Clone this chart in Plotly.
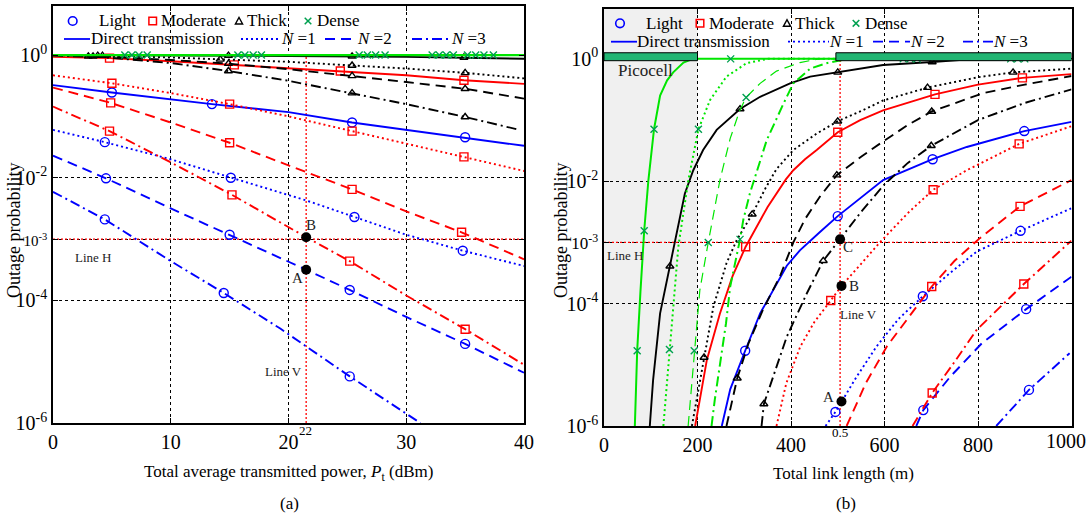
import plotly.graph_objects as go

W, H = 1087, 515
SERIF = "Liberation Serif, Times New Roman, Times, serif"
BLUE, RED, BLACK = "#0000ff", "#ff0000", "#000000"
GREEN_LINE, GREEN_MARK = "#00e600", "#00a050"
PICO_FILL = "#22b573"

# ======================= Panel (a): x = transmitted power (dBm); *_LP = log10(outage) =======================
A_XTICKS = [0, 10, 20, 30, 40]
A_YTICKS = [1, 1e-2, 1e-3, 1e-4, 1e-6]
A_LINE_H = 1e-3
A_LINE_V = 21.5

# Light (blue)
A_LIGHT_DIR_X = [0, 5, 13.5, 20, 25.4, 30, 35, 40]
A_LIGHT_DIR_LP = [-0.49, -0.61, -0.80, -0.93, -1.10, -1.22, -1.34, -1.48]
A_LIGHT_DIR_MX = [5, 13.5, 25.4, 35]
A_LIGHT_DIR_MLP = [-0.61, -0.80, -1.10, -1.34]
A_LIGHT_N1_X = [0, 4.4, 10, 15.1, 21.5, 25.6, 30, 34.8, 40]
A_LIGHT_N1_LP = [-1.22, -1.42, -1.70, -2.0, -2.37, -2.64, -2.93, -3.19, -3.44]
A_LIGHT_N1_MX = [4.4, 15.1, 25.6, 34.8]
A_LIGHT_N1_MLP = [-1.42, -2.0, -2.64, -3.19]
A_LIGHT_N2_X = [0, 4.5, 10, 15, 21.5, 25.2, 30, 35, 40]
A_LIGHT_N2_LP = [-1.64, -2.01, -2.5, -2.93, -3.5, -3.83, -4.27, -4.71, -5.18]
A_LIGHT_N2_MX = [4.5, 15, 25.2, 35]
A_LIGHT_N2_MLP = [-2.01, -2.93, -3.83, -4.71]
A_LIGHT_N3_X = [0, 4.4, 10, 14.5, 19.3, 25.2, 31.2]
A_LIGHT_N3_LP = [-2.23, -2.68, -3.36, -3.88, -4.46, -5.24, -6.0]
A_LIGHT_N3_MX = [4.4, 14.5, 25.2]
A_LIGHT_N3_MLP = [-2.68, -3.88, -5.24]

# Moderate (red)
A_MOD_DIR_X = [0, 4.8, 10, 15.4, 20, 24.4, 30, 34.9, 40]
A_MOD_DIR_LP = [-0.03, -0.05, -0.10, -0.16, -0.21, -0.26, -0.33, -0.41, -0.47]
A_MOD_DIR_MX = [4.8, 15.4, 24.4, 34.9]
A_MOD_DIR_MLP = [-0.05, -0.16, -0.26, -0.41]
A_MOD_N1_X = [0, 5, 10, 15, 20, 25.4, 30, 34.9, 40]
A_MOD_N1_LP = [-0.33, -0.46, -0.62, -0.80, -1.0, -1.24, -1.45, -1.66, -1.89]
A_MOD_N1_MX = [5, 15, 25.4, 34.9]
A_MOD_N1_MLP = [-0.46, -0.80, -1.24, -1.66]
A_MOD_N2_X = [0, 4.9, 10, 15, 20, 25.4, 30, 34.7, 40]
A_MOD_N2_LP = [-0.53, -0.78, -1.1, -1.43, -1.8, -2.19, -2.55, -2.89, -3.33]
A_MOD_N2_MX = [4.9, 15, 25.4, 34.7]
A_MOD_N2_MLP = [-0.78, -1.43, -2.19, -2.89]
A_MOD_N3_X = [0, 4.8, 10, 15.2, 21.5, 25.2, 30, 35, 40]
A_MOD_N3_LP = [-0.84, -1.24, -1.75, -2.28, -2.97, -3.36, -3.92, -4.47, -5.05]
A_MOD_N3_MX = [4.8, 15.2, 25.2, 35]
A_MOD_N3_MLP = [-1.24, -2.28, -3.36, -4.47]

# Thick (black)
A_THICK_DIR_X = [0, 10, 20, 30, 40]
A_THICK_DIR_LP = [0, -0.005, -0.015, -0.03, -0.06]
A_THICK_DIR_MX = [4.2, 14.9, 25.4, 34.9]
A_THICK_DIR_MLP = [-0.01, -0.01, -0.02, -0.04]
A_THICK_N1_X = [0, 4, 10, 14.2, 20, 25.4, 30, 35, 40]
A_THICK_N1_LP = [0, -0.01, -0.04, -0.07, -0.11, -0.17, -0.22, -0.29, -0.38]
A_THICK_N1_MX = [3.8, 14.2, 25.4, 35]
A_THICK_N1_MLP = [-0.01, -0.07, -0.17, -0.29]
A_THICK_N2_X = [0, 4, 10, 14.9, 20, 25.4, 30, 35, 40]
A_THICK_N2_LP = [0, -0.02, -0.08, -0.14, -0.23, -0.34, -0.44, -0.55, -0.71]
A_THICK_N2_MX = [3.4, 14.9, 25.4, 35]
A_THICK_N2_MLP = [-0.02, -0.14, -0.34, -0.55]
A_THICK_N3_X = [0, 4, 10, 14.9, 20, 25.4, 30, 35, 39.4]
A_THICK_N3_LP = [-0.01, -0.03, -0.13, -0.26, -0.42, -0.62, -0.8, -1.01, -1.21]
A_THICK_N3_MX = [3.0, 14.9, 25.4, 35]
A_THICK_N3_MLP = [-0.02, -0.26, -0.62, -1.01]

# Dense (green) - all saturated at 1
A_DENSE_X = [0, 40]
A_DENSE_LP = [0, 0]
A_DENSE_DIR_MX = [6.1, 15.7, 26.0, 32.2, 35.2]
A_DENSE_N1_MX = [6.7, 16.3, 26.7, 32.8, 35.9]
A_DENSE_N2_MX = [7.3, 17.0, 27.4, 33.4, 36.6]
A_DENSE_N3_MX = [8.0, 17.7, 28.2, 34.0, 37.4]

A_POINTS_X = [21.5, 21.5]
A_POINTS_LP = [-3.5, -2.97]

# ======================= Panel (b): x = total link length (m) =======================
B_XTICKS = [0, 200, 400, 600, 800, 1000]
B_YTICKS = [1, 1e-2, 1e-3, 1e-4, 1e-6]
B_LINE_H = 1e-3
B_LINE_V = 505
B_PICOCELL = [0, 200]
B_BAR2 = [496, 1000]

B_DENSE_DIR_X = [66, 71, 78, 86, 95, 107, 120, 135, 148, 170, 190, 1000]
B_DENSE_DIR_LP = [-6, -4.77, -3.8, -2.81, -1.98, -1.15, -0.6, -0.35, -0.22, -0.06, 0, 0]
B_DENSE_DIR_MX = [71, 86, 107, 271]
B_DENSE_DIR_MLP = [-4.77, -2.81, -1.15, 0]
B_DENSE_N1_X = [127, 140, 159, 180, 202, 227, 262, 305, 350, 1000]
B_DENSE_N1_LP = [-6, -4.75, -3.07, -2.0, -1.15, -0.67, -0.29, -0.07, 0, 0]
B_DENSE_N1_MX = [140, 202, 640, 870]
B_DENSE_N1_MLP = [-4.75, -1.15, 0, 0]
B_DENSE_N2_X = [180, 193, 205, 223, 248, 270, 290, 304, 334, 369, 419, 460, 1000]
B_DENSE_N2_LP = [-6, -4.77, -3.78, -3.0, -1.98, -1.3, -0.85, -0.63, -0.4, -0.2, -0.06, 0, 0]
B_DENSE_N2_MX = [193, 223, 304, 655, 885]
B_DENSE_N2_MLP = [-4.77, -3.0, -0.63, 0, 0]
B_DENSE_N3_X = [230, 237, 261, 270, 291, 298, 312, 348, 384, 405, 441, 476, 520, 1000]
B_DENSE_N3_LP = [-6, -5.57, -4.32, -3.72, -2.95, -2.63, -2.2, -1.33, -0.73, -0.4, -0.16, -0.07, 0, 0]
B_DENSE_N3_MX = [291, 670, 900]
B_DENSE_N3_MLP = [-2.95, 0, 0]

B_THICK_DIR_X = [98, 105, 120, 141, 152, 173, 191, 212, 241, 291, 334, 398, 441, 500, 548, 597, 702, 760, 1000]
B_THICK_DIR_LP = [-6, -5.25, -4.16, -3.39, -2.96, -2.2, -1.82, -1.49, -1.16, -0.82, -0.62, -0.4, -0.29, -0.22, -0.16, -0.1, -0.05, -0.02, 0]
B_THICK_DIR_MX = [141, 291, 500, 702]
B_THICK_DIR_MLP = [-3.39, -0.82, -0.22, -0.05]
B_THICK_N1_X = [188, 214, 234, 262, 284, 317, 345, 369, 405, 455, 500, 548, 597, 692, 800, 875, 1000]
B_THICK_N1_LP = [-6, -4.88, -4.05, -3.34, -2.96, -2.54, -2.12, -1.8, -1.49, -1.22, -1.02, -0.86, -0.68, -0.47, -0.3, -0.22, -0.16]
B_THICK_N1_MX = [214, 317, 500, 692, 875]
B_THICK_N1_MLP = [-4.88, -2.54, -1.02, -0.47, -0.22]
B_THICK_N2_X = [262, 285, 309, 340, 376, 405, 430, 462, 498, 550, 597, 650, 701, 811, 900, 1000]
B_THICK_N2_LP = [-6, -5.22, -4.65, -4.1, -3.56, -3.0, -2.62, -2.25, -1.9, -1.6, -1.35, -1.08, -0.86, -0.56, -0.42, -0.28]
B_THICK_N2_MX = [285, 498, 701]
B_THICK_N2_MLP = [-5.22, -1.9, -0.86]
B_THICK_N3_X = [337, 342, 391, 434, 469, 505, 550, 600, 650, 700, 800, 900, 1000]
B_THICK_N3_LP = [-6, -5.64, -4.54, -3.83, -3.3, -2.95, -2.5, -2.05, -1.7, -1.42, -1.0, -0.72, -0.5]
B_THICK_N3_MX = [342, 469, 700]
B_THICK_N3_MLP = [-5.64, -3.3, -1.42]

B_MOD_DIR_X = [195, 220, 248, 275, 303, 350, 389, 405, 430, 455, 500, 548, 597, 708, 800, 895, 1000]
B_MOD_DIR_LP = [-6, -4.92, -4.16, -3.55, -3.07, -2.42, -1.97, -1.82, -1.64, -1.49, -1.2, -1.0, -0.84, -0.58, -0.42, -0.31, -0.25]
B_MOD_DIR_MX = [303, 500, 708, 895]
B_MOD_DIR_MLP = [-3.07, -1.2, -0.58, -0.31]
B_MOD_N1_X = [369, 390, 420, 450, 485, 508, 550, 590, 650, 704, 776, 888, 1000]
B_MOD_N1_LP = [-6, -5.3, -4.7, -4.3, -3.95, -3.71, -3.35, -3.0, -2.52, -2.14, -1.82, -1.39, -1.1]
B_MOD_N1_MX = [485, 704, 888]
B_MOD_N1_MLP = [-3.95, -2.14, -1.39]
B_MOD_N2_X = [519, 560, 605, 631, 701, 750, 804, 890, 1000]
B_MOD_N2_LP = [-6, -5.3, -4.7, -4.43, -3.72, -3.3, -2.93, -2.41, -1.98]
B_MOD_N2_MX = [701, 890]
B_MOD_N2_MLP = [-3.72, -2.41]
B_MOD_N3_X = [660, 702, 750, 797, 898, 1000]
B_MOD_N3_LP = [-6, -5.46, -4.95, -4.43, -3.68, -2.97]
B_MOD_N3_MX = [702, 898]
B_MOD_N3_MLP = [-5.46, -3.68]

B_LIGHT_DIR_X = [252, 270, 302, 334, 391, 419, 462, 500, 597, 703, 776, 899, 1000]
B_LIGHT_DIR_LP = [-6, -5.4, -4.77, -4.16, -3.38, -3.13, -2.83, -2.57, -1.98, -1.64, -1.44, -1.18, -1.03]
B_LIGHT_DIR_MX = [302, 500, 703, 899]
B_LIGHT_DIR_MLP = [-4.77, -2.57, -1.64, -1.18]
B_LIGHT_N1_X = [474, 495, 540, 583, 630, 682, 740, 797, 891, 1000]
B_LIGHT_N1_LP = [-6, -5.77, -5.2, -4.7, -4.25, -3.88, -3.5, -3.15, -2.81, -2.44]
B_LIGHT_N1_MX = [495, 682, 891]
B_LIGHT_N1_MLP = [-5.77, -3.88, -2.81]
B_LIGHT_N2_X = [668, 683, 740, 808, 903, 1000]
B_LIGHT_N2_LP = [-6, -5.74, -5.2, -4.65, -4.09, -3.56]
B_LIGHT_N2_MX = [683, 903]
B_LIGHT_N2_MLP = [-5.74, -4.09]
B_LIGHT_N3_X = [839, 909, 996]
B_LIGHT_N3_LP = [-6, -5.41, -4.81]
B_LIGHT_N3_MX = [909]
B_LIGHT_N3_MLP = [-5.41]

B_POINTS_X = [508, 508, 505]
B_POINTS_LP = [-5.6, -3.71, -2.95]

# ======================= figure =======================
DASH = {"solid": "solid", "n1": "2px,3px", "n2": "10px,6px", "n3": "10px,4px,2px,4px"}
SYMBOL = {"blue": ("circle-open", 9, BLUE), "red": ("square-open", 8, RED),
          "black": ("triangle-up-open", 7, BLACK), "green": ("x-thin", 7, GREEN_MARK)}

fig = go.Figure()


def pw(v):
    return [10 ** e for e in v]


def curve(x, lp, color, style, xa, ya, width=1.9):
    fig.add_trace(go.Scatter(x=x, y=pw(lp), mode="lines", xaxis=xa, yaxis=ya,
                             line=dict(color=color, dash=DASH[style], width=width),
                             showlegend=False, hoverinfo="skip"))


def marks(x, lp, kind, xa, ya):
    sym, size, col = SYMBOL[kind]
    fig.add_trace(go.Scatter(x=x, y=pw(lp), mode="markers", xaxis=xa, yaxis=ya,
                             marker=dict(symbol=sym, size=size, color=col,
                                         line=dict(color=col, width=1.4)),
                             showlegend=False, hoverinfo="skip"))


def ref_lines(xa, ya, xr, yr, xv, yh):
    for (xs, ys) in [([xr[0], xr[-1]], [yh, yh]), ([xv, xv], [yr[-1], yr[0]])]:
        fig.add_trace(go.Scatter(x=xs, y=ys, mode="lines", xaxis=xa, yaxis=ya,
                                 line=dict(color=RED, dash="2px,2px", width=1.3),
                                 showlegend=False, hoverinfo="skip"))


# ---- panel (a)
ref_lines("x", "y", A_XTICKS, A_YTICKS, A_LINE_V, A_LINE_H)
for (x, lp, mx, mlp, style) in [
    (A_LIGHT_DIR_X, A_LIGHT_DIR_LP, A_LIGHT_DIR_MX, A_LIGHT_DIR_MLP, "solid"),
    (A_LIGHT_N1_X, A_LIGHT_N1_LP, A_LIGHT_N1_MX, A_LIGHT_N1_MLP, "n1"),
    (A_LIGHT_N2_X, A_LIGHT_N2_LP, A_LIGHT_N2_MX, A_LIGHT_N2_MLP, "n2"),
    (A_LIGHT_N3_X, A_LIGHT_N3_LP, A_LIGHT_N3_MX, A_LIGHT_N3_MLP, "n3")]:
    curve(x, lp, BLUE, style, "x", "y")
    marks(mx, mlp, "blue", "x", "y")
for (x, lp, mx, mlp, style) in [
    (A_MOD_DIR_X, A_MOD_DIR_LP, A_MOD_DIR_MX, A_MOD_DIR_MLP, "solid"),
    (A_MOD_N1_X, A_MOD_N1_LP, A_MOD_N1_MX, A_MOD_N1_MLP, "n1"),
    (A_MOD_N2_X, A_MOD_N2_LP, A_MOD_N2_MX, A_MOD_N2_MLP, "n2"),
    (A_MOD_N3_X, A_MOD_N3_LP, A_MOD_N3_MX, A_MOD_N3_MLP, "n3")]:
    curve(x, lp, RED, style, "x", "y")
    marks(mx, mlp, "red", "x", "y")
for (x, lp, mx, mlp, style) in [
    (A_THICK_DIR_X, A_THICK_DIR_LP, A_THICK_DIR_MX, A_THICK_DIR_MLP, "solid"),
    (A_THICK_N1_X, A_THICK_N1_LP, A_THICK_N1_MX, A_THICK_N1_MLP, "n1"),
    (A_THICK_N2_X, A_THICK_N2_LP, A_THICK_N2_MX, A_THICK_N2_MLP, "n2"),
    (A_THICK_N3_X, A_THICK_N3_LP, A_THICK_N3_MX, A_THICK_N3_MLP, "n3")]:
    curve(x, lp, BLACK, style, "x", "y")
    marks(mx, mlp, "black", "x", "y")
curve(A_DENSE_X, A_DENSE_LP, GREEN_LINE, "solid", "x", "y", width=2.2)
for mx in [A_DENSE_DIR_MX, A_DENSE_N1_MX, A_DENSE_N2_MX, A_DENSE_N3_MX]:
    marks(mx, [0] * len(mx), "green", "x", "y")
fig.add_trace(go.Scatter(x=A_POINTS_X, y=pw(A_POINTS_LP), mode="markers", xaxis="x", yaxis="y",
                         marker=dict(color=BLACK, size=10), showlegend=False, hoverinfo="skip"))

# ---- panel (b)
ref_lines("x2", "y2", B_XTICKS, B_YTICKS, B_LINE_V, B_LINE_H)
for (x, lp, mx, mlp, style) in [
    (B_LIGHT_DIR_X, B_LIGHT_DIR_LP, B_LIGHT_DIR_MX, B_LIGHT_DIR_MLP, "solid"),
    (B_LIGHT_N1_X, B_LIGHT_N1_LP, B_LIGHT_N1_MX, B_LIGHT_N1_MLP, "n1"),
    (B_LIGHT_N2_X, B_LIGHT_N2_LP, B_LIGHT_N2_MX, B_LIGHT_N2_MLP, "n2"),
    (B_LIGHT_N3_X, B_LIGHT_N3_LP, B_LIGHT_N3_MX, B_LIGHT_N3_MLP, "n3")]:
    curve(x, lp, BLUE, style, "x2", "y2")
    marks(mx, mlp, "blue", "x2", "y2")
for (x, lp, mx, mlp, style) in [
    (B_MOD_DIR_X, B_MOD_DIR_LP, B_MOD_DIR_MX, B_MOD_DIR_MLP, "solid"),
    (B_MOD_N1_X, B_MOD_N1_LP, B_MOD_N1_MX, B_MOD_N1_MLP, "n1"),
    (B_MOD_N2_X, B_MOD_N2_LP, B_MOD_N2_MX, B_MOD_N2_MLP, "n2"),
    (B_MOD_N3_X, B_MOD_N3_LP, B_MOD_N3_MX, B_MOD_N3_MLP, "n3")]:
    curve(x, lp, RED, style, "x2", "y2")
    marks(mx, mlp, "red", "x2", "y2")
for (x, lp, mx, mlp, style) in [
    (B_THICK_DIR_X, B_THICK_DIR_LP, B_THICK_DIR_MX, B_THICK_DIR_MLP, "solid"),
    (B_THICK_N1_X, B_THICK_N1_LP, B_THICK_N1_MX, B_THICK_N1_MLP, "n1"),
    (B_THICK_N2_X, B_THICK_N2_LP, B_THICK_N2_MX, B_THICK_N2_MLP, "n2"),
    (B_THICK_N3_X, B_THICK_N3_LP, B_THICK_N3_MX, B_THICK_N3_MLP, "n3")]:
    curve(x, lp, BLACK, style, "x2", "y2")
    marks(mx, mlp, "black", "x2", "y2")
for (x, lp, mx, mlp, style, w) in [
    (B_DENSE_DIR_X, B_DENSE_DIR_LP, B_DENSE_DIR_MX, B_DENSE_DIR_MLP, "solid", 2.0),
    (B_DENSE_N1_X, B_DENSE_N1_LP, B_DENSE_N1_MX, B_DENSE_N1_MLP, "n1", 2.0),
    (B_DENSE_N2_X, B_DENSE_N2_LP, B_DENSE_N2_MX, B_DENSE_N2_MLP, "n2", 1.2),
    (B_DENSE_N3_X, B_DENSE_N3_LP, B_DENSE_N3_MX, B_DENSE_N3_MLP, "n3", 2.0)]:
    curve(x, lp, GREEN_LINE, style, "x2", "y2", width=w)
    marks(mx, mlp, "green", "x2", "y2")
fig.add_trace(go.Scatter(x=B_POINTS_X, y=pw(B_POINTS_LP), mode="markers", xaxis="x2", yaxis="y2",
                         marker=dict(color=BLACK, size=10), showlegend=False, hoverinfo="skip"))


# ---------------- layout ----------------
def P(px, py):
    return px / W, 1 - py / H


A_DOM_X = [53 / W, 524 / W]
A_DOM_Y = [1 - 423 / H, 1 - 6 / H]
B_DOM_X = [604 / W, 1071.5 / W]
B_DOM_Y = [1 - 426 / H, 1 - 9 / H]
A_YTOP, B_YTOP = 0.80, 0.815

tick_txt_a = ["10<sup>0</sup>", "10<sup>-2</sup>", "<span style='font-size:15px'>10<sup>-3</sup></span>",
              "10<sup>-4</sup>", "10<sup>-6</sup>"]
tick_txt_b = ["10<sup>0</sup>", "10<sup>-2</sup>", "<span style='font-size:17px'>10<sup>-3</sup></span>",
              "10<sup>-4</sup>", "10<sup>-6</sup>"]
# the last x label of panel (b) sits at the figure edge; it is drawn as an annotation, shifted inward
b_xticktext = [str(v) for v in B_XTICKS[:-1]] + [""]

axis_common = dict(showline=True, linecolor=BLACK, linewidth=1.6, mirror="allticks", ticks="inside",
                   ticklen=5, tickcolor=BLACK, showgrid=True, gridcolor=BLACK, griddash="dot", gridwidth=1,
                   zeroline=False, automargin=False, ticklabeloverflow="allow",
                   tickfont=dict(family=SERIF, size=20, color=BLACK))

fig.update_layout(
    width=W, height=H, margin=dict(l=0, r=0, t=0, b=0, autoexpand=False),
    paper_bgcolor="white", plot_bgcolor="white", showlegend=False,
    font=dict(family=SERIF, color=BLACK),
    xaxis=dict(domain=A_DOM_X, range=[0, 40], tickvals=A_XTICKS, ticktext=[str(v) for v in A_XTICKS],
               anchor="y", **axis_common),
    yaxis=dict(domain=A_DOM_Y, type="log", range=[-6, A_YTOP], tickvals=A_YTICKS, ticktext=tick_txt_a,
               anchor="x", **axis_common),
    xaxis2=dict(domain=B_DOM_X, range=[0, 1000], tickvals=B_XTICKS, ticktext=b_xticktext,
                anchor="y2", **axis_common),
    yaxis2=dict(domain=B_DOM_Y, type="log", range=[-6, B_YTOP], tickvals=B_YTICKS, ticktext=tick_txt_b,
                anchor="x2", **axis_common),
)

shapes = []
# picocell shading & bars (b)  (shape y values on a log axis are given as data values)
shapes.append(dict(type="rect", xref="x2", yref="y2", x0=B_PICOCELL[0], x1=B_PICOCELL[1],
                   y0=B_YTICKS[-1], y1=10 ** B_YTOP, fillcolor="#f0f0f0", line=dict(width=0), layer="below"))
for (x0, x1) in [B_PICOCELL, B_BAR2]:
    shapes.append(dict(type="rect", xref="x2", yref="y2", x0=x0, x1=x1, y0=10 ** -0.03, y1=10 ** 0.10,
                       fillcolor=PICO_FILL, line=dict(color=BLACK, width=1), layer="above"))

annotations = []


def txt(px, py, s, size=17, xanchor="center", angle=0):
    x, y = P(px, py)
    annotations.append(dict(x=x, y=y, xref="paper", yref="paper", text=s, showarrow=False,
                            xanchor=xanchor, yanchor="middle", textangle=angle,
                            font=dict(family=SERIF, size=size, color=BLACK)))


def legend(rows_y1, rows_y2, items1, items2):
    for (kind, cx, label, tx) in items1:
        cy = rows_y1
        if kind == "blue":
            x0, y0 = P(cx - 4.3, cy - 4.3)
            x1, y1 = P(cx + 4.3, cy + 4.3)
            shapes.append(dict(type="circle", xref="paper", yref="paper", x0=x0, x1=x1, y0=y0, y1=y1,
                               line=dict(color=BLUE, width=1.6)))
        elif kind == "red":
            x0, y0 = P(cx - 3.8, cy - 3.8)
            x1, y1 = P(cx + 3.8, cy + 3.8)
            shapes.append(dict(type="rect", xref="paper", yref="paper", x0=x0, x1=x1, y0=y0, y1=y1,
                               line=dict(color=RED, width=1.5)))
        elif kind == "black":
            a = P(cx - 3.6, cy + 3)
            b = P(cx + 3.6, cy + 3)
            c = P(cx, cy - 3.6)
            shapes.append(dict(type="path", xref="paper", yref="paper",
                               path=f"M{a[0]},{a[1]} L{b[0]},{b[1]} L{c[0]},{c[1]} Z",
                               line=dict(color=BLACK, width=1.4)))
        else:
            for (dx0, dy0, dx1, dy1) in [(-3.3, -3.3, 3.3, 3.3), (-3.3, 3.3, 3.3, -3.3)]:
                x0, y0 = P(cx + dx0, cy + dy0)
                x1, y1 = P(cx + dx1, cy + dy1)
                shapes.append(dict(type="line", xref="paper", yref="paper", x0=x0, x1=x1, y0=y0, y1=y1,
                                   line=dict(color=GREEN_MARK, width=1.5)))
        txt(tx, cy, label, xanchor="left")
    for (style, lx0, lx1, label, tx) in items2:
        x0, y0 = P(lx0, rows_y2)
        x1, _ = P(lx1, rows_y2)
        shapes.append(dict(type="line", xref="paper", yref="paper", x0=x0, x1=x1, y0=y0, y1=y0,
                           line=dict(color=BLUE, width=1.8, dash=DASH[style])))
        txt(tx, rows_y2, label, xanchor="left")


legend(21, 39,
       [("blue", 72.7, "Light", 97), ("red", 152.7, "Moderate", 159), ("black", 239, "Thick", 245),
        ("green", 308, "Dense", 315)],
       [("solid", 64, 90, "Direct transmission", 89), ("n1", 241, 280, "<i>N</i> =1", 279),
        ("n2", 325, 357, "<i>N</i> =2", 355), ("n3", 412, 450, "<i>N</i> =3", 449)])
legend(23.3, 41.7,
       [("blue", 620, "Light", 644), ("red", 700, "Moderate", 707), ("black", 787, "Thick", 793),
        ("green", 856, "Dense", 863)],
       [("solid", 611, 637, "Direct transmission", 635), ("n1", 788, 829, "<i>N</i> =1", 827),
        ("n2", 873, 910, "<i>N</i> =2", 908), ("n3", 963, 993, "<i>N</i> =3", 991)])

# axis titles and captions
txt(14, 231, "Outage probability", size=18, angle=-90)
txt(561, 231, "Outage probability", size=18, angle=-90)
txt(288, 473, "Total average transmitted power, <i>P</i><sub>t</sub> (dBm)")
txt(843, 473, "Total link length (m)")
txt(289, 503, "(a)")
txt(846, 503, "(b)")
txt(1066, 441, str(B_XTICKS[-1]), size=20)


def data_txt(xa, ya, x, lp, s, size=13):
    annotations.append(dict(x=x, y=lp, xref=xa, yref=ya, text=s, showarrow=False,
                            xanchor="center", yanchor="middle",
                            font=dict(family=SERIF, size=size, color="#222222")))


data_txt("x", "y", 3.4, -3.3, "Line H")
data_txt("x", "y", 19.6, -5.16, "Line V")
data_txt("x", "y", 21.9, -2.77, "B", 15)
data_txt("x", "y", 20.8, -3.64, "A", 15)
data_txt("x2", "y2", 45, -3.22, "Line H")
data_txt("x2", "y2", 545, -4.17, "Line V")
data_txt("x2", "y2", 480, -5.52, "A", 15)
data_txt("x2", "y2", 534, -3.71, "B", 15)
data_txt("x2", "y2", 522, -3.08, "C", 15)
data_txt("x2", "y2", 88, -0.19, "Picocell", 17)
txt(305, 430, "22", size=13)
txt(840, 432, "0.5", size=13)

fig.update_layout(shapes=shapes, annotations=annotations)
fig.write_html("out.html", config={"displayModeBar": False},
               post_script="document.body.style.margin='0';document.body.style.overflow='hidden';")
